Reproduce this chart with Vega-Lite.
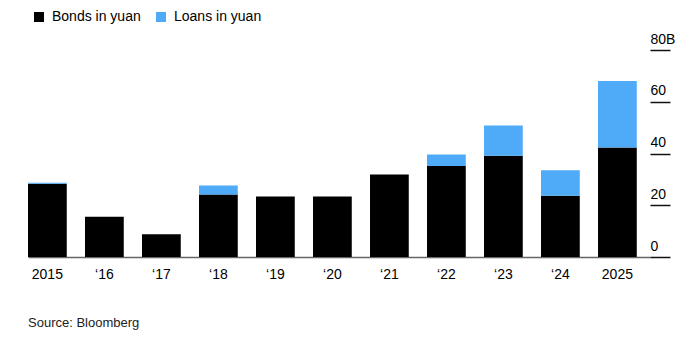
{
  "$schema": "https://vega.github.io/schema/vega-lite/v6.json",
  "autosize": "none",
  "width": 622,
  "height": 207,
  "padding": {"left": 28, "top": 50, "right": 50, "bottom": 85},
  "background": "#ffffff",
  "config": {
    "view": {"stroke": null},
    "font": "Liberation Sans"
  },
  "title": {
    "text": "Source: Bloomberg",
    "orient": "bottom",
    "anchor": "start",
    "frame": "group",
    "offset": 36,
    "fontSize": 13,
    "fontWeight": "normal",
    "color": "#222222",
    "baseline": "top"
  },
  "data": {
    "values": [
      {"year": "2015", "type": "Bonds in yuan", "value": 28.3, "ord": 0},
      {"year": "2015", "type": "Loans in yuan", "value": 0.4, "ord": 1},
      {"year": "‘16", "type": "Bonds in yuan", "value": 15.6, "ord": 0},
      {"year": "‘16", "type": "Loans in yuan", "value": 0, "ord": 1},
      {"year": "‘17", "type": "Bonds in yuan", "value": 8.8, "ord": 0},
      {"year": "‘17", "type": "Loans in yuan", "value": 0, "ord": 1},
      {"year": "‘18", "type": "Bonds in yuan", "value": 24.2, "ord": 0},
      {"year": "‘18", "type": "Loans in yuan", "value": 3.4, "ord": 1},
      {"year": "‘19", "type": "Bonds in yuan", "value": 23.4, "ord": 0},
      {"year": "‘19", "type": "Loans in yuan", "value": 0, "ord": 1},
      {"year": "‘20", "type": "Bonds in yuan", "value": 23.4, "ord": 0},
      {"year": "‘20", "type": "Loans in yuan", "value": 0, "ord": 1},
      {"year": "‘21", "type": "Bonds in yuan", "value": 31.9, "ord": 0},
      {"year": "‘21", "type": "Loans in yuan", "value": 0, "ord": 1},
      {"year": "‘22", "type": "Bonds in yuan", "value": 35.2, "ord": 0},
      {"year": "‘22", "type": "Loans in yuan", "value": 4.4, "ord": 1},
      {"year": "‘23", "type": "Bonds in yuan", "value": 39.1, "ord": 0},
      {"year": "‘23", "type": "Loans in yuan", "value": 11.7, "ord": 1},
      {"year": "‘24", "type": "Bonds in yuan", "value": 23.7, "ord": 0},
      {"year": "‘24", "type": "Loans in yuan", "value": 9.8, "ord": 1},
      {"year": "2025", "type": "Bonds in yuan", "value": 42.3, "ord": 0},
      {"year": "2025", "type": "Loans in yuan", "value": 25.7, "ord": 1}
    ]
  },
  "mark": {"type": "bar"},
  "encoding": {
    "x": {
      "field": "year",
      "type": "nominal",
      "sort": null,
      "scale": {"paddingInner": 0.32, "paddingOuter": 0.116, "align": 0},
      "axis": {
        "title": null,
        "labelAngle": 0,
        "tickSize": 0,
        "domain": true,
        "domainColor": "#666666",
        "domainWidth": 1.5,
        "labelPadding": 10,
        "labelFontSize": 14,
        "labelColor": "#000000"
      }
    },
    "y": {
      "field": "value",
      "type": "quantitative",
      "stack": "zero",
      "scale": {"domain": [0, 80], "nice": false},
      "axis": {
        "orient": "right",
        "title": null,
        "grid": false,
        "domain": false,
        "values": [0, 20, 40, 60, 80],
        "ticks": true,
        "tickSize": 20,
        "tickColor": "#111111",
        "tickWidth": 1.5,
        "labelAlign": "left",
        "labelBaseline": "alphabetic",
        "labelOffset": -7,
        "labelPadding": -20,
        "labelFontSize": 14,
        "labelExpr": "datum.value == 80 ? '80B' : datum.label"
      }
    },
    "color": {
      "field": "type",
      "type": "nominal",
      "scale": {"domain": ["Bonds in yuan", "Loans in yuan"], "range": ["#000000", "#4fabf7"]},
      "legend": {
        "title": null,
        "orient": "none",
        "direction": "horizontal",
        "legendX": 4,
        "legendY": -40,
        "symbolType": "square",
        "symbolSize": 100,
        "symbolStrokeWidth": 0,
        "labelFontSize": 14,
        "labelColor": "#000000",
        "labelOffset": 6,
        "columnPadding": 13
      }
    },
    "order": {"field": "ord", "type": "quantitative"}
  }
}
